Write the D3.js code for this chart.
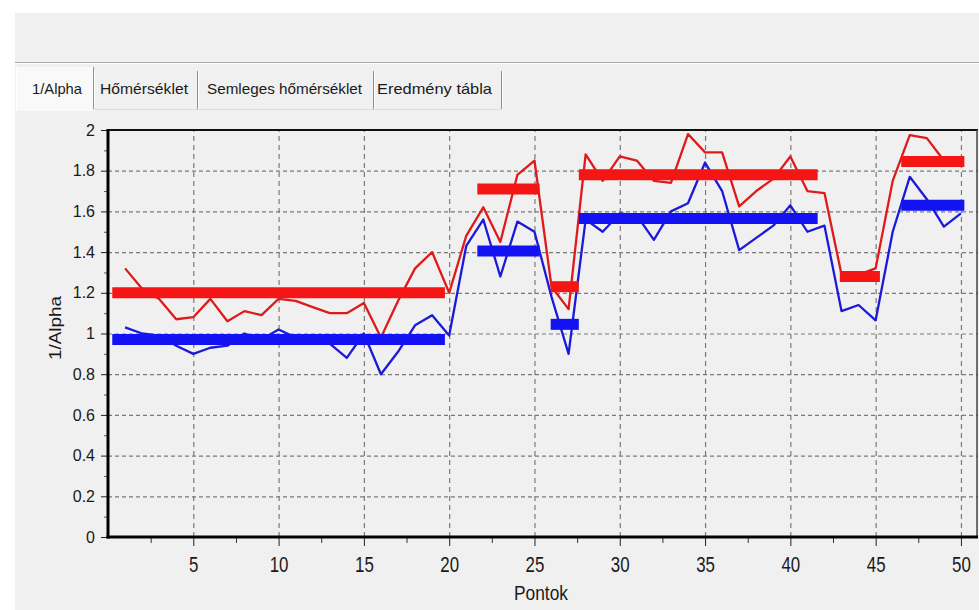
<!DOCTYPE html>
<html>
<head>
<meta charset="utf-8">
<script src="https://cdn.jsdelivr.net/npm/d3@7"></script>
<style>
  html, body { margin: 0; padding: 0; background: #ffffff; overflow: hidden; }
  svg { display: block; font-family: "Liberation Sans", Arial, sans-serif; }
</style>
</head>
<body>
<svg id="chart" width="979" height="610"></svg>
<script>
// ---------- DATA ----------
const tabLabels = ["1/Alpha", "Hőmérséklet", "Semleges hőmérséklet", "Eredmény tábla"];
const xTitle = "Pontok";
const yTitle = "1/Alpha";

const pontok = [1,2,3,4,5,6,7,8,9,10,11,12,13,14,15,16,17,18,19,20,
                21,22,23,24,25,26,27,28,29,30,31,32,33,34,35,36,37,38,39,40,
                41,42,43,44,45,46,47,48,49,50];

const redValues = [1.32,1.22,1.17,1.07,1.08,1.17,1.06,1.11,1.09,1.17,
                   1.16,1.13,1.10,1.10,1.15,0.98,1.16,1.32,1.40,1.20,
                   1.48,1.62,1.45,1.78,1.85,1.23,1.12,1.88,1.75,1.87,
                   1.85,1.75,1.74,1.98,1.89,1.89,1.625,1.70,1.76,1.87,
                   1.70,1.69,1.29,1.29,1.32,1.75,1.975,1.96,1.85,1.84];

const blueValues = [1.03,1.00,0.99,0.94,0.90,0.93,0.94,1.00,0.97,1.02,
                    0.98,0.96,0.95,0.88,1.00,0.80,0.91,1.04,1.09,0.99,
                    1.43,1.56,1.28,1.55,1.50,1.18,0.90,1.56,1.50,1.59,
                    1.58,1.46,1.60,1.64,1.84,1.70,1.41,1.47,1.53,1.63,
                    1.50,1.53,1.11,1.14,1.065,1.50,1.77,1.66,1.525,1.59];

// averaged segments (thick bars)
const bandStart = [0.25, 21.65, 25.95, 27.6, 42.9, 46.5];
const bandEnd   = [19.75, 25.3, 27.6, 41.6, 45.25, 50.2];
const redMeans  = [1.20, 1.71, 1.23, 1.78, 1.28, 1.845];
const blueMeans = [0.97, 1.405, 1.045, 1.565, null, 1.63];

const xTicks = [5,10,15,20,25,30,35,40,45,50];
const xMinorTicks = [2.5,7.5,12.5,17.5,22.5,27.5,32.5,37.5,42.5,47.5];
const yTicks = [0,0.2,0.4,0.6,0.8,1,1.2,1.4,1.6,1.8,2];
const yMinorTicks = [0.1,0.3,0.5,0.7,0.9,1.1,1.3,1.5,1.7,1.9];

// ---------- LAYOUT ----------
const svg = d3.select("#chart");
const W = 979, H = 610;
const plot = { left: 108, right: 978, top: 130, bottom: 537 };

const x = d3.scaleLinear().domain([0, 51]).range([plot.left, plot.right]);
const y = d3.scaleLinear().domain([0, 2]).range([plot.bottom, plot.top]);

const RED_LINE = "#e01a1a", RED_BAND = "#f51515";
const BLUE_LINE = "#1a1ad8", BLUE_BAND = "#1212f2";

function fit(sel, width) {
  sel.attr("textLength", width).attr("lengthAdjust", "spacingAndGlyphs");
  return sel;
}

// ---------- WINDOW CHROME ----------
svg.append("rect").attr("x", 0).attr("y", 0).attr("width", W).attr("height", H).attr("fill", "#ffffff");
svg.append("rect").attr("x", 15).attr("y", 13).attr("width", W - 15).attr("height", H - 13).attr("fill", "#f0f0f0");
svg.append("line").attr("x1", 15).attr("x2", W).attr("y1", 62.5).attr("y2", 62.5).attr("stroke", "#a9a9a9");
svg.append("line").attr("x1", 15).attr("x2", W).attr("y1", 63.5).attr("y2", 63.5).attr("stroke", "#ffffff");

// tabs
const tabEdges = [15, 93, 197, 373, 501];
const tabTextX = [57, 144, 284.5, 434.5];
const tabTextW = [50, 88, 155, 115];
svg.append("rect").attr("x", 16).attr("y", 67).attr("width", 77).attr("height", 44)
   .attr("fill", "#f9f9f9");
svg.append("line").attr("x1", 16.5).attr("x2", 16.5).attr("y1", 67).attr("y2", 111).attr("stroke", "#ffffff");
for (let i = 1; i < tabEdges.length; i++) {
  svg.append("line").attr("x1", tabEdges[i] + 0.5).attr("x2", tabEdges[i] + 0.5)
     .attr("y1", i === 1 ? 67 : 71).attr("y2", 109).attr("stroke", "#8f8f8f");
  svg.append("line").attr("x1", tabEdges[i] + 1.5).attr("x2", tabEdges[i] + 1.5)
     .attr("y1", 71).attr("y2", 109).attr("stroke", "#ffffff");
}
svg.append("line").attr("x1", 94).attr("x2", 501).attr("y1", 109.5).attr("y2", 109.5).attr("stroke", "#dcdcdc");
tabLabels.forEach((t, i) => {
  fit(svg.append("text").attr("x", tabTextX[i]).attr("y", 94).attr("text-anchor", "middle")
     .attr("font-size", 15).attr("fill", "#1a1a1a").text(t), tabTextW[i]);
});

// ---------- GRID ----------
const gGrid = svg.append("g");
gGrid.append("g").attr("transform", `translate(0,${plot.bottom})`)
  .call(d3.axisBottom(x).tickValues(xTicks).tickSize(-(plot.bottom - plot.top)).tickFormat(""))
  .call(g => g.select(".domain").remove())
  .call(g => g.selectAll("line").attr("stroke", "#7a7a7a").attr("stroke-dasharray", "5,4").attr("stroke-width", 1.2));
gGrid.append("g").attr("transform", `translate(${plot.left},0)`)
  .call(d3.axisLeft(y).tickValues(yTicks.filter(v => v > 0 && v < 2)).tickSize(-(plot.right - plot.left)).tickFormat(""))
  .call(g => g.select(".domain").remove())
  .call(g => g.selectAll("line").attr("stroke", "#7a7a7a").attr("stroke-dasharray", "4,3").attr("stroke-width", 1.2));

// ---------- SERIES ----------
const line = d3.line().x((d, i) => x(pontok[i])).y(d => y(d));
svg.append("path").datum(redValues).attr("d", line)
   .attr("fill", "none").attr("stroke", RED_LINE).attr("stroke-width", 2.3).attr("stroke-linejoin", "round");
svg.append("path").datum(blueValues).attr("d", line)
   .attr("fill", "none").attr("stroke", BLUE_LINE).attr("stroke-width", 2.3).attr("stroke-linejoin", "round");

const bandIdx = bandStart.map((d, i) => i);
svg.append("g").selectAll("line").data(bandIdx.filter(i => redMeans[i] != null)).join("line")
   .attr("x1", i => x(bandStart[i])).attr("x2", i => x(bandEnd[i]))
   .attr("y1", i => y(redMeans[i])).attr("y2", i => y(redMeans[i]))
   .attr("stroke", RED_BAND).attr("stroke-width", 11);
svg.append("g").selectAll("line").data(bandIdx.filter(i => blueMeans[i] != null)).join("line")
   .attr("x1", i => x(bandStart[i])).attr("x2", i => x(bandEnd[i]))
   .attr("y1", i => y(blueMeans[i])).attr("y2", i => y(blueMeans[i]))
   .attr("stroke", BLUE_BAND).attr("stroke-width", 11);

// ---------- AXES ----------
// minor ticks
svg.append("g").attr("transform", `translate(0,${plot.bottom})`)
  .call(d3.axisBottom(x).tickValues(xMinorTicks).tickSize(6).tickFormat(""))
  .call(g => g.select(".domain").remove())
  .call(g => g.selectAll("line").attr("stroke", "#333"));
svg.append("g").attr("transform", `translate(${plot.left},0)`)
  .call(d3.axisLeft(y).tickValues(yMinorTicks).tickSize(4).tickFormat(""))
  .call(g => g.select(".domain").remove())
  .call(g => g.selectAll("line").attr("stroke", "#555"));

// major x
const gx = svg.append("g").attr("transform", `translate(0,${plot.bottom})`)
  .call(d3.axisBottom(x).tickValues(xTicks).tickSize(9).tickPadding(8).tickFormat(d3.format("d")))
  .call(g => g.select(".domain").remove());
gx.selectAll("line").attr("stroke", "#222");
gx.selectAll("text").attr("font-size", 22).attr("fill", "#1a1a1a")
  .attr("font-family", "'Liberation Sans', Arial, sans-serif")
  .each(function(d) { fit(d3.select(this), String(d).length * 9.4); })
  .attr("dy", "0.71em").attr("y", 19);

// major y
const gy = svg.append("g").attr("transform", `translate(${plot.left},0)`)
  .call(d3.axisLeft(y).tickValues(yTicks).tickSize(7).tickPadding(6).tickFormat(d => d3.format("")(+d.toFixed(1))))
  .call(g => g.select(".domain").remove());
gy.selectAll("line").attr("stroke", "#222");
gy.selectAll("text").attr("font-size", 16).attr("fill", "#1a1a1a")
  .attr("font-family", "'Liberation Sans', Arial, sans-serif")
  .attr("x", -13);

// frame
svg.append("line").attr("x1", plot.left).attr("x2", plot.right).attr("y1", plot.top).attr("y2", plot.top)
   .attr("stroke", "#111").attr("stroke-width", 2);
svg.append("line").attr("x1", plot.right - 1).attr("x2", plot.right - 1).attr("y1", plot.top).attr("y2", plot.bottom)
   .attr("stroke", "#444").attr("stroke-width", 1.5);
svg.append("line").attr("x1", plot.left).attr("x2", plot.left).attr("y1", plot.top - 1).attr("y2", plot.bottom + 1.5)
   .attr("stroke", "#000").attr("stroke-width", 3);
svg.append("line").attr("x1", plot.left - 1.5).attr("x2", plot.right).attr("y1", plot.bottom).attr("y2", plot.bottom)
   .attr("stroke", "#000").attr("stroke-width", 3);

// titles
fit(svg.append("text").attr("x", 541).attr("y", 600).attr("text-anchor", "middle")
   .attr("font-size", 20).attr("fill", "#1a1a1a").text(xTitle), 54);
fit(svg.append("text").attr("transform", "translate(61,328) rotate(-90)").attr("text-anchor", "middle")
   .attr("font-size", 17).attr("fill", "#1a1a1a").text(yTitle), 64);
</script>
</body>
</html>
